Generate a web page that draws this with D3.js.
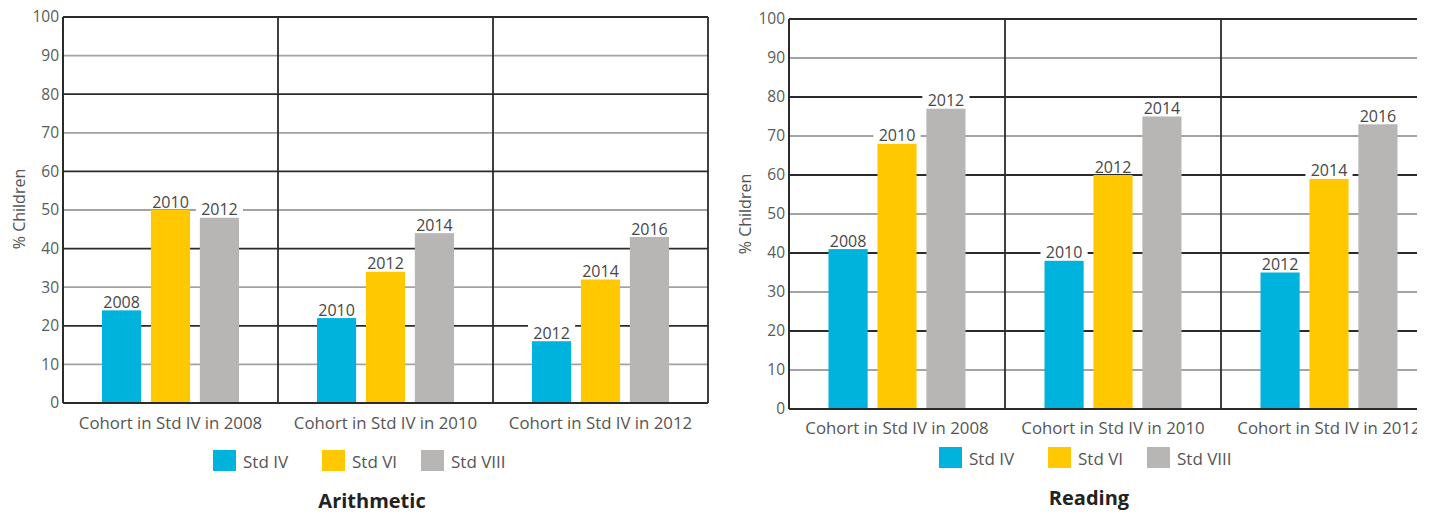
<!DOCTYPE html>
<html>
<head>
<meta charset="utf-8">
<script src="https://cdn.jsdelivr.net/npm/d3@7"></script>
<style>
  html, body { margin: 0; padding: 0; background: #fff; }
  svg { display: block; }
  text { font-family: "Open Sans", "DejaVu Sans", sans-serif; }
</style>
</head>
<body>
<svg id="chart" width="1431" height="513"></svg>
<script>
// Cohorts followed across grades, and the grades each cohort was tested in
const cohorts = ["Cohort in Std IV in 2008", "Cohort in Std IV in 2010", "Cohort in Std IV in 2012"];
const grades = ["Std IV", "Std VI", "Std VIII"];
const gradeColors = ["#00b3dd", "#ffc800", "#b8b5b5"];

// Survey year for each bar (cohort x grade)
const surveyYears = [
  ["2008", "2010", "2012"],
  ["2010", "2012", "2014"],
  ["2012", "2014", "2016"]
];

// % children per cohort, in order Std IV, Std VI, Std VIII
const arithmeticValues = [
  [24, 50, 48],
  [22, 34, 44],
  [16, 32, 43]
];
const readingValues = [
  [41, 68, 77],
  [38, 60, 75],
  [35, 59, 73]
];

const yTicks = [0, 10, 20, 30, 40, 50, 60, 70, 80, 90, 100];

const svg = d3.select("#chart");

svg.append("defs").append("clipPath").attr("id", "pageClip")
  .append("rect").attr("x", 0).attr("y", 0).attr("width", 1417).attr("height", 513);

function drawPanel(opts) {
  const root = svg.append("g").attr("clip-path", "url(#pageClip)");

  const x = d3.scaleBand().domain(cohorts).range([opts.left, opts.left + opts.panelW * 3]);
  const y = d3.scaleLinear().domain([0, 100]).range([opts.bottom, opts.top]);
  const inner = d3.scaleBand().domain(grades).range([-68.5, 68.5]).paddingInner(0.2);

  const right = opts.left + opts.panelW * 3;

  // horizontal gridlines: dark every 20, light in between
  root.append("g").selectAll("line").data(yTicks.filter(t => t > 0)).join("line")
    .attr("x1", opts.left).attr("x2", right)
    .attr("y1", d => y(d)).attr("y2", d => y(d))
    .attr("stroke", d => d % 20 === 0 ? "#2b2b2b" : "#a3a3a3")
    .attr("stroke-width", d => d === 100 ? 2.2 : 1.8);

  // vertical separators between cohorts and the right border
  root.append("g").selectAll("line").data(cohorts.slice(1).concat(["__end"])).join("line")
    .attr("x1", d => d === "__end" ? right : x(d))
    .attr("x2", d => d === "__end" ? right : x(d))
    .attr("y1", y(100)).attr("y2", y(0))
    .attr("stroke", "#2b2b2b").attr("stroke-width", 1.8);

  // y axis labels
  const yAxis = d3.axisLeft(y).tickValues(yTicks).tickSize(0).tickPadding(4);
  const ax = root.append("g").attr("transform", `translate(${opts.left},0)`).call(yAxis);
  ax.select(".domain").remove();
  ax.selectAll("text")
    .style("font-family", "'Open Sans', sans-serif")
    .style("font-size", "15.5px")
    .attr("fill", "#5a5a5a");

  // bars
  const groups = root.append("g").selectAll("g").data(cohorts).join("g")
    .attr("transform", d => `translate(${x(d) + x.bandwidth() / 2},0)`);

  const bars = groups.selectAll("g.bar").data((c, ci) => grades.map((g, gi) => ({
    grade: g, gi, value: opts.values[ci][gi], year: surveyYears[ci][gi]
  }))).join("g").attr("class", "bar");

  bars.append("rect")
    .attr("x", d => inner(d.grade))
    .attr("width", inner.bandwidth())
    .attr("y", d => y(d.value))
    .attr("height", d => y(0) - y(d.value))
    .attr("fill", d => gradeColors[d.gi]);

  // value labels with a white backing over the gridlines
  bars.append("rect")
    .attr("x", d => inner(d.grade) - 4)
    .attr("width", inner.bandwidth() + 8)
    .attr("y", d => y(d.value) - 17)
    .attr("height", 16)
    .attr("fill", "#fff");

  bars.append("text")
    .attr("x", d => inner(d.grade) + inner.bandwidth() / 2)
    .attr("y", d => y(d.value) - 2.5)
    .attr("text-anchor", "middle")
    .attr("font-size", 16)
    .attr("fill", "#474747")
    .text(d => d.year);

  // axis lines
  root.append("line")
    .attr("x1", opts.left).attr("x2", opts.left)
    .attr("y1", y(100)).attr("y2", y(0))
    .attr("stroke", "#2b2b2b").attr("stroke-width", 2);
  root.append("line")
    .attr("x1", opts.left).attr("x2", right)
    .attr("y1", y(0)).attr("y2", y(0))
    .attr("stroke", "#2b2b2b").attr("stroke-width", 2);

  // cohort labels
  root.append("g").selectAll("text").data(cohorts).join("text")
    .attr("x", d => x(d) + x.bandwidth() / 2)
    .attr("y", opts.catY)
    .attr("text-anchor", "middle")
    .attr("font-size", 16.8)
    .attr("fill", "#555")
    .text(d => d);

  // y axis title
  root.append("text")
    .attr("transform", `translate(${opts.yTitleX},${opts.yTitleY}) rotate(-90)`)
    .attr("text-anchor", "middle")
    .attr("font-size", 16)
    .attr("fill", "#555")
    .text("% Children");

  // legend
  const legendOffsets = [0, 109, 208];
  const leg = root.append("g").selectAll("g").data(grades).join("g")
    .attr("transform", (d, i) => `translate(${opts.legendX + legendOffsets[i]},${opts.legendY})`);
  leg.append("rect").attr("width", 23).attr("height", 21)
    .attr("fill", (d, i) => gradeColors[i]);
  leg.append("text").attr("x", 30).attr("y", 17.5)
    .attr("font-size", 17).attr("fill", "#555")
    .text(d => d);

  // subject title
  root.append("text")
    .attr("x", opts.titleX).attr("y", opts.titleY)
    .attr("text-anchor", "middle")
    .attr("font-size", 20).attr("font-weight", 700)
    .attr("fill", "#222")
    .text(opts.title);
}

drawPanel({
  title: "Arithmetic", values: arithmeticValues,
  left: 63, panelW: 215, top: 17, bottom: 403,
  catY: 429, yTitleX: 25, yTitleY: 209,
  legendX: 213, legendY: 450, titleX: 372, titleY: 508
});

drawPanel({
  title: "Reading", values: readingValues,
  left: 789, panelW: 216, top: 19, bottom: 409,
  catY: 434, yTitleX: 751, yTitleY: 214,
  legendX: 939, legendY: 447, titleX: 1089, titleY: 505
});
</script>
</body>
</html>
